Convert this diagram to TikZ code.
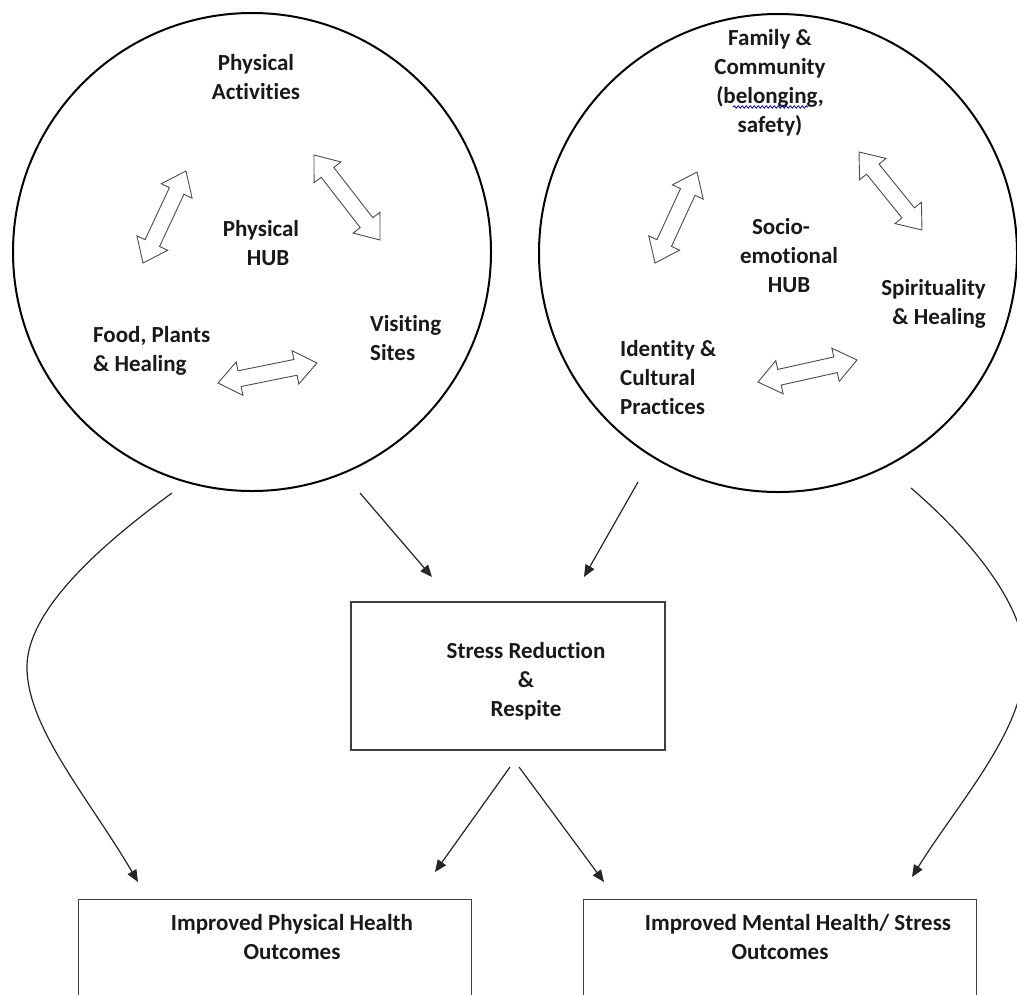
\documentclass[tikz,border=0pt]{standalone}
\usepackage{fontspec}
\setmainfont{Carlito}[Ligatures={NoCommon}]
\usetikzlibrary{arrows.meta,calc,decorations.pathmorphing}
\newcommand{\dbarrow}[3]{%
  \coordinate (#3a) at #1;
  \coordinate (#3b) at #2;
  \coordinate (#3p) at ($(#3a)!22pt!(#3b)$);
  \coordinate (#3q) at ($(#3b)!22pt!(#3a)$);
  \draw[dblarrow] (#3a) -- ($(#3p)!17pt!90:(#3b)$) -- ($(#3p)!8pt!90:(#3b)$)
    -- ($(#3q)!8pt!-90:(#3a)$) -- ($(#3q)!17pt!-90:(#3a)$) -- (#3b)
    -- ($(#3q)!17pt!90:(#3a)$) -- ($(#3q)!8pt!90:(#3a)$)
    -- ($(#3p)!8pt!-90:(#3b)$) -- ($(#3p)!17pt!-90:(#3b)$) -- cycle;
}
\begin{document}
\begin{tikzpicture}[x=1pt,y=-1pt,
  txt/.style={font=\bfseries\fontsize{23}{29}\selectfont, inner sep=0pt, align=center, text=black!90},
  hub/.style={draw=black, line width=2pt, circle, minimum size=478pt, inner sep=0pt},
  box/.style={draw=black!75, line width=1.1pt, rectangle, inner sep=0pt},
  conn/.style={draw=black!85, line width=1.2pt, -{Triangle[length=12pt,width=10pt]}},
  dblarrow/.style={draw=black!70, line width=0.9pt, line join=miter, fill=white}]
\useasboundingbox (0,0) rectangle (1017,994);
\clip (0,0) rectangle (1017,994);

% hubs
\node[hub] (lc) at (252,252) {};
\node[hub] (rc) at (778,253) {};

% left hub texts
\node[txt] (pa) at (256,77) {Physical\\Activities};
\node[txt] (ph) at (261,243) {Physical\\\hspace*{14pt}HUB};
\node[txt, align=left, anchor=west] (fp) at (93,351) {Food, Plants\\\& Healing};
\node[txt, align=left, anchor=west] (vs) at (370,338) {Visiting\\Sites};

% right hub texts
\node[txt] (fc) at (770,83) {Family \&\\Community\\(belonging,\\safety)};
\node[txt] (se) at (789,256) {\hspace*{-16pt}Socio-\\emotional\\HUB};
\node[txt, align=right, anchor=east] (sh) at (986,304) {Spirituality\\\& Healing};
\node[txt, align=left, anchor=west] (ic) at (620,378) {Identity \&\\Cultural\\Practices};
\draw[blue!70!black, line width=0.8pt, decorate, decoration={snake, amplitude=1.2pt, segment length=4pt}] (733,107) -- (808,107);

% double arrows (left hub)
\dbarrow{(143,263)}{(186,171)}{la}
\dbarrow{(314,155)}{(380,240)}{lb}
\dbarrow{(218,383)}{(317,363)}{lcc}
% double arrows (right hub)
\dbarrow{(655,263)}{(697,172)}{ra}
\dbarrow{(859,152)}{(922,230)}{rb}
\dbarrow{(758,382)}{(857,360)}{rcc}

% stress box
\node[box, minimum width=314pt, minimum height=148pt] (sr) at (508,676) {};
\node[txt] (srt) at (526,681) {Stress Reduction\\\&\\Respite};

% outcome boxes
\node[box, anchor=north west, minimum width=393pt, minimum height=200pt] (pb) at (78,899) {};
\node[txt] (pbt) at (292,937) {Improved Physical Health\\Outcomes};
\node[box, anchor=north west, minimum width=393pt, minimum height=200pt] (mb) at (583,899) {};
\node[txt] (mbt) at (798,937) {Improved Mental Health/ Stress\\\hspace*{-36pt}Outcomes};

% connector end points
\coordinate (c1s) at (172,493);
\coordinate (c1m) at (27,670);
\coordinate (c1e) at (138,882);
\coordinate (c2s) at (360,493);
\coordinate (c2e) at (432,577);
\coordinate (c3s) at (638,482);
\coordinate (c3e) at (584,577);
\coordinate (c4s) at (911,488);
\coordinate (c4m) at (1025,660);
\coordinate (c4e) at (912,877);
\coordinate (c5s) at (510,767);
\coordinate (c5e) at (435,872);
\coordinate (c6s) at (519,767);
\coordinate (c6e) at (604,882);

\draw[conn] (c1s) .. controls (80,560) and (25,620) .. (c1m) .. controls (29,730) and (90,800) .. (c1e);
\draw[conn] (c2s) -- (c2e);
\draw[conn] (c3s) -- (c3e);
\draw[conn] (c4s) .. controls (960,530) and (1025,600) .. (c4m) .. controls (1025,730) and (960,800) .. (c4e);
\draw[conn] (c5s) -- (c5e);
\draw[conn] (c6s) -- (c6e);
\end{tikzpicture}
\end{document}
